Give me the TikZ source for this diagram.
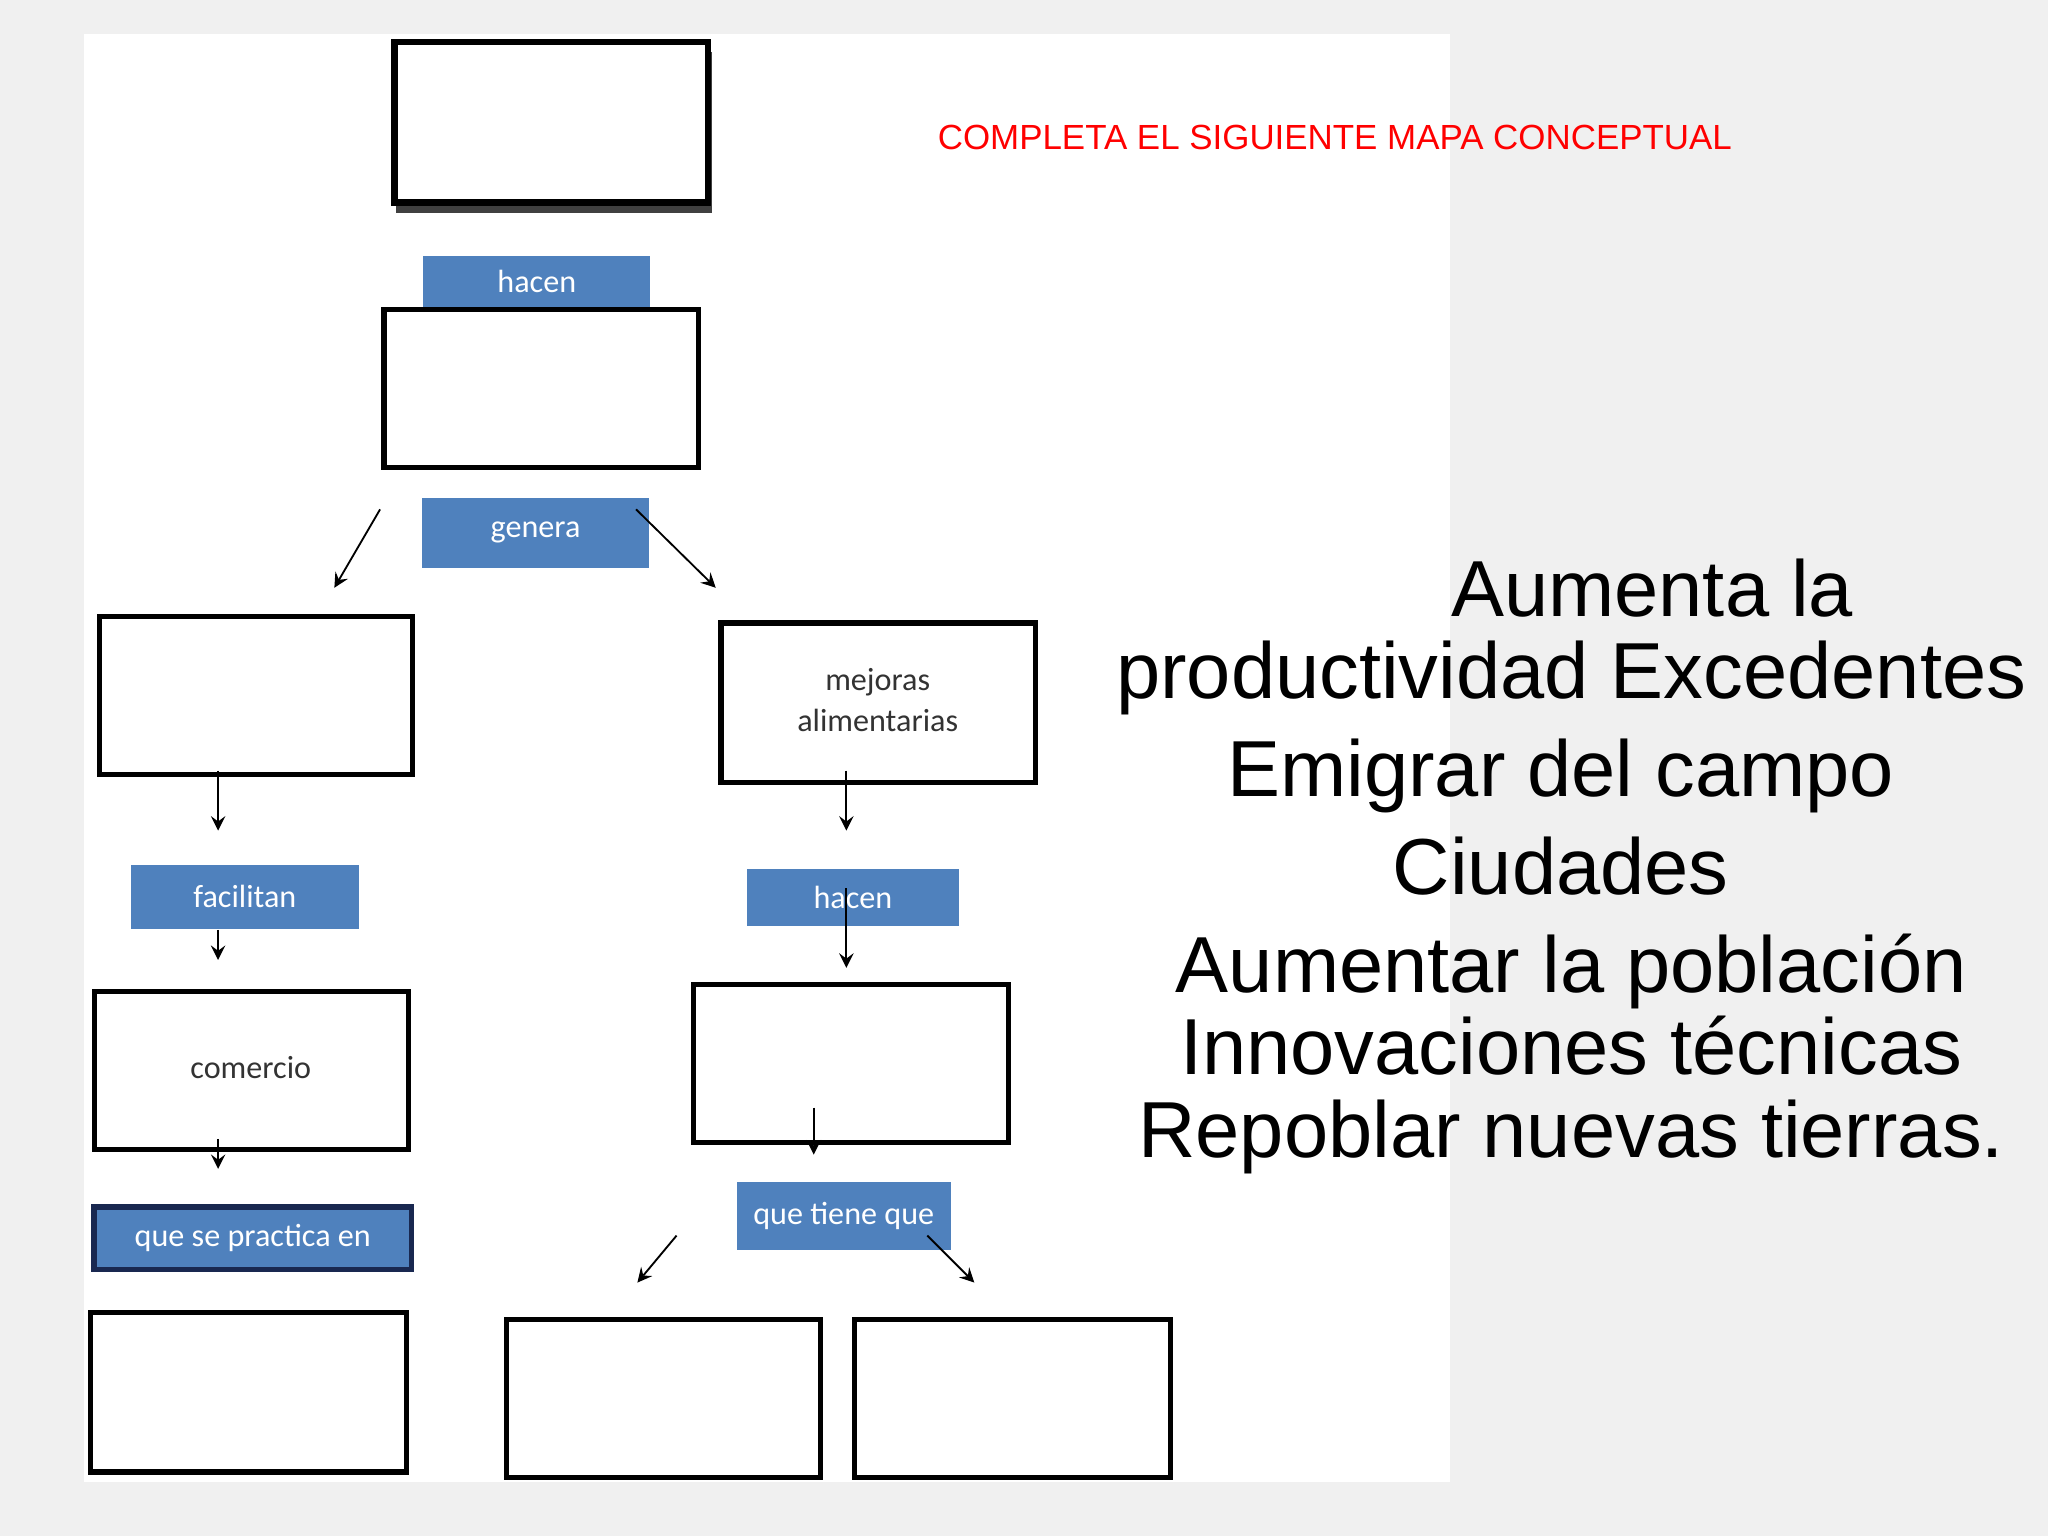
\documentclass[tikz,border=0pt]{standalone}
\usepackage{fontspec}
\setmainfont{Liberation Sans}
\newfontfamily\calfont{Carlito}
\begin{document}
\begin{tikzpicture}[x=0.01cm,y=-0.01cm,
 box/.style={draw=black,line width=1.1pt,fill=white},
 lab/.style={fill={rgb,255:red,79;green,129;blue,189},text=white,font=\calfont\fontsize{7}{8}\selectfont},
 arr/.style={-stealth,line width=0.4pt},
 big/.style={font=\fontsize{17.3}{20}\selectfont,anchor=base}]
\useasboundingbox (0,0) rectangle (1568,1176);
\fill[gray!12] (0,0) rectangle (1568,1176);
\fill[white] (64,26) rectangle (1110,1135);
\fill[black!75] (303,40) rectangle (545,163);
\draw[box,line width=1.4pt] (302,32) rectangle (542,155);
\fill[lab] (324,196) rectangle (498,235) node[midway,text=white] (h1) {hacen};
\draw[box] (294,237) rectangle (535,358);
\fill[lab] (323,381) rectangle (497,435) node[midway,text=white] (g) {genera};
\coordinate (a1) at (291,390); \coordinate (a2) at (256,450);
\coordinate (b1) at (487,390); \coordinate (b2) at (548,450);
\draw[arr] (a1)--(a2); \draw[arr] (b1)--(b2);
\draw[box] (76,472) rectangle (316,593);
\draw[box] (552,477) rectangle (793,599);
\node[font=\calfont\fontsize{7}{9}\selectfont,text=black!80,align=center] (m) at (672,536) {mejoras\\alimentarias};
\coordinate (c1) at (167,590); \coordinate (c2) at (167,636);
\coordinate (d1) at (648,590); \coordinate (d2) at (648,636);
\draw[arr] (c1)--(c2); \draw[arr] (d1)--(d2);
\fill[lab] (100,662) rectangle (275,711) node[midway,text=white] (f) {facilitan};
\fill[lab] (572,665) rectangle (734,709) node[midway,text=white] (h2) {hacen};
\coordinate (e1) at (167,712); \coordinate (e2) at (167,735);
\coordinate (k1) at (648,680); \coordinate (k2) at (648,741);
\draw[arr] (e1)--(e2); \draw[arr] (k1)--(k2);
\draw[box] (72,759) rectangle (313,880);
\node[font=\calfont\fontsize{7}{9}\selectfont,text=black!80] (co) at (192,817) {comercio};
\draw[box] (531,754) rectangle (772,875);
\coordinate (p1) at (167,872); \coordinate (p2) at (167,895);
\coordinate (q1) at (623,848); \coordinate (q2) at (623,884);
\draw[arr] (p1)--(p2); \draw[arr] (q1)--(q2);
\filldraw[lab,draw={rgb,255:red,25;green,40;blue,80},line width=1.2pt] (72,924) rectangle (315,972) node[midway,text=white] (qs) {que se practica en};
\fill[lab] (564,905) rectangle (728,957) node[midway,text=white] (qt) {que tiene que};
\coordinate (r1) at (518,946); \coordinate (r2) at (488,982);
\coordinate (s1) at (710,946); \coordinate (s2) at (746,982);
\draw[arr] (r1)--(r2); \draw[arr] (s1)--(s2);
\draw[box] (69,1005) rectangle (311,1127);
\draw[box] (388,1010) rectangle (628,1131);
\draw[box] (654,1010) rectangle (896,1131);
\node[text=red,font=\fontsize{7.6}{9}\selectfont] (t) at (1022,105) {COMPLETA EL SIGUIENTE MAPA CONCEPTUAL};
\node[big] (x1) at (1265,472) {Aumenta la};
\node[big] (x2) at (1203,535) {productividad Excedentes};
\node[big] (x3) at (1195,610) {Emigrar del campo};
\node[big] (x4) at (1195,685) {Ciudades};
\node[big] (x5) at (1203,760) {Aumentar la población};
\node[big] (x6) at (1203,823) {Innovaciones técnicas};
\node[big] (x7) at (1203,886) {Repoblar nuevas tierras.};
\end{tikzpicture}
\end{document}
